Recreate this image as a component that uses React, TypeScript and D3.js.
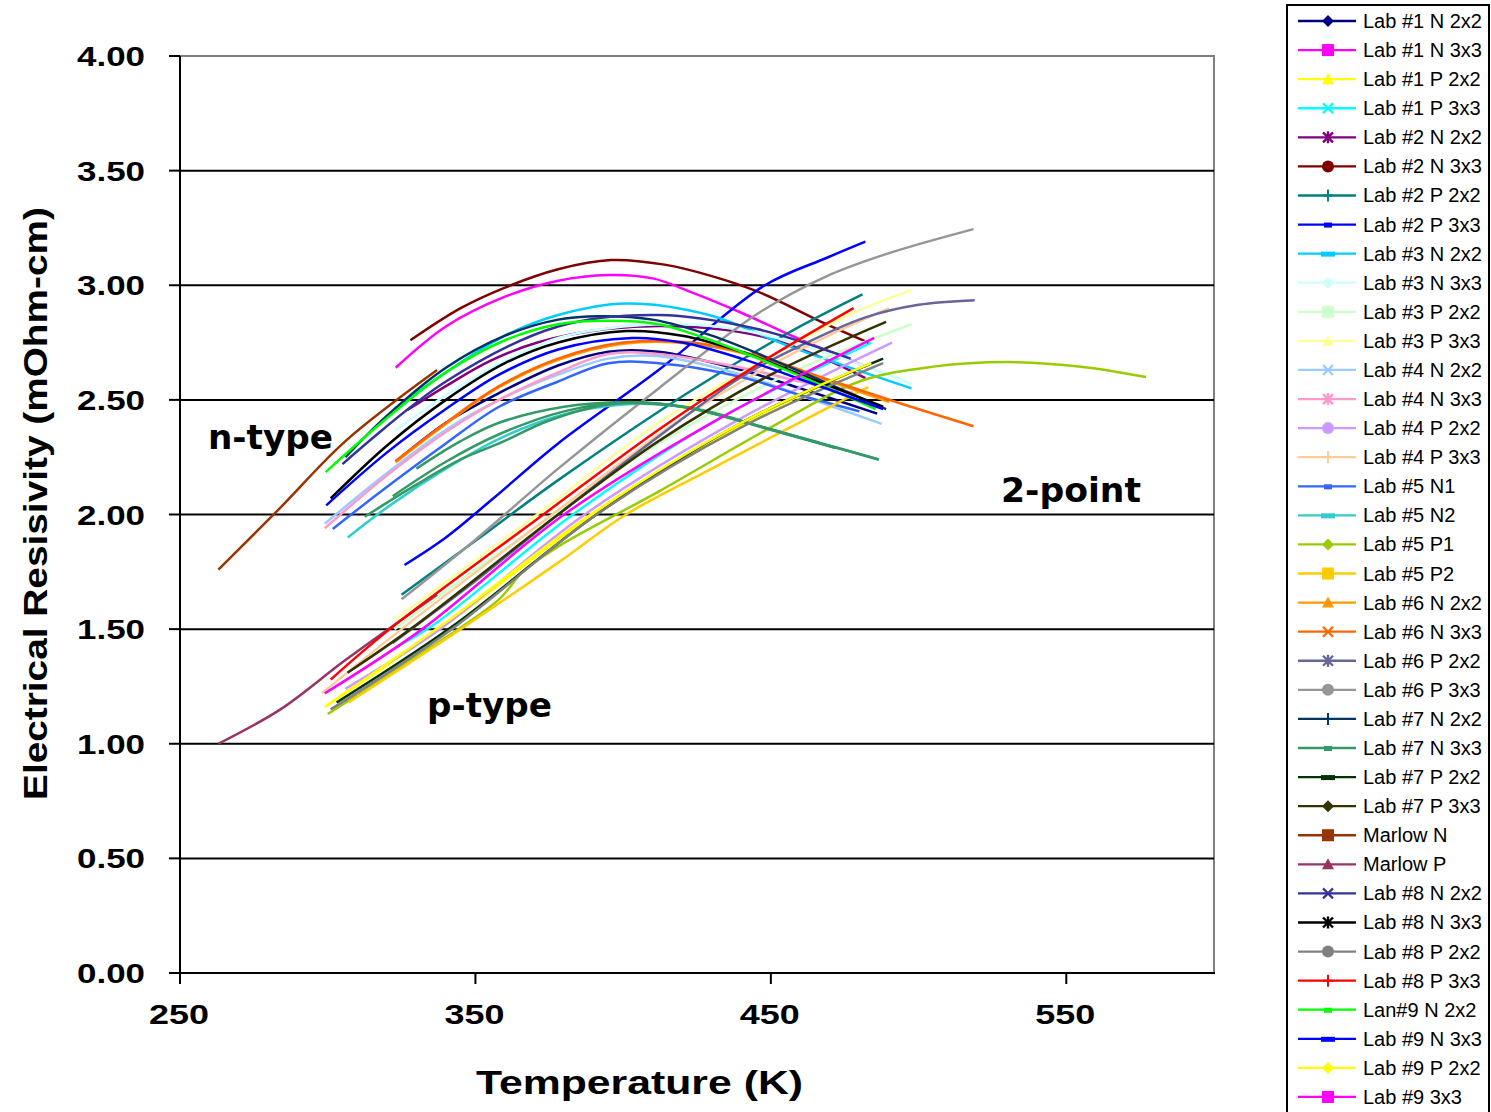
import React from "react";
import * as d3 from "d3";

// ---------- data (Temperature K, Resistivity mOhm-cm) ----------
const lab1N2x2 = [[323,2.23],[340,2.40],[358,2.53],[378,2.65],[395,2.71],[412,2.71],[440,2.63],[460,2.55],[486,2.44]];
const lab1N3x3 = [[323,2.64],[340,2.82],[360,2.95],[378,3.02],[395,3.045],[410,3.03],[423,2.97],[440,2.88],[457,2.78],[483,2.64]];
const lab1P2x2 = [[299,1.16],[340,1.52],[390,2.00],[440,2.39],[484,2.66]];
const lab1P3x3 = [[323,1.42],[336,1.52],[383,2.00],[430,2.40],[484,2.75]];
const lab2N2x2 = [[327,2.456],[340,2.56],[355,2.67],[371,2.75],[395,2.81],[420,2.82],[446,2.78],[468,2.68],[482,2.595]];
const lab2N3x3 = [[328,2.76],[345,2.90],[360,2.99],[378,3.07],[396,3.11],[414,3.09],[430,3.04],[446,2.97],[468,2.835],[483,2.75]];
const lab2P2x2 = [[325,1.65],[350,1.885],[378,2.15],[423,2.54],[457,2.80],[481,2.96]];
const lab2P3x3 = [[326,1.78],[340,1.90],[356,2.07],[378,2.31],[412,2.63],[448,3.00],[469,3.12],[482,3.19]];
const lab3N2x2 = [[322.6,2.46],[340,2.62],[360,2.78],[378,2.87],[401,2.92],[429,2.87],[457,2.73],[497.6,2.55]];
const lab3N3x3 = [[322.6,2.364],[340,2.52],[360,2.67],[378,2.77],[400,2.82],[420,2.83],[442,2.80],[470,2.70],[497.6,2.57]];
const lab3P2x2 = [[322.6,1.50],[350,1.76],[380,2.03],[412,2.31],[457,2.62],[497.6,2.83]];
const lab3P3x3 = [[322.6,1.54],[350,1.80],[373,2.02],[412,2.40],[457,2.74],[478,2.88],[497.6,2.98]];
const lab4N2x2 = [[299,1.96],[320,2.18],[340,2.37],[358,2.50],[378,2.61],[395,2.68],[412,2.69],[440,2.61],[460,2.52],[487.5,2.395]];
const lab4N3x3 = [[299,1.94],[320,2.17],[340,2.36],[358,2.50],[378,2.62],[395,2.70],[412,2.70],[440,2.64],[460,2.58],[478,2.53]];
const lab4P2x2 = [[306,1.24],[338,1.50],[387,2.00],[440,2.42],[491,2.75]];
const lab4P3x3 = [[298,1.22],[325,1.50],[376,2.00],[420,2.42],[457,2.70],[490,2.90]];
const lab5N1 = [[301.7,1.937],[320,2.12],[340,2.31],[358,2.47],[378,2.58],[395,2.66],[412,2.66],[440,2.60],[460,2.52],[480,2.45]];
const lab5N2 = [[306.8,1.90],[320,2.03],[340,2.20],[358,2.33],[378,2.43],[400,2.48],[420,2.47],[445,2.39],[472,2.29]];
const lab5P1 = [[300,1.13],[330,1.38],[358,1.63],[366,1.75],[378,1.86],[412,2.10],[450,2.38],[480,2.58],[505,2.645],[530,2.665],[555,2.645],[577,2.60]];
const lab5P2 = [[307,1.18],[345,1.50],[378,1.79],[401,2.00],[430,2.20],[458,2.39],[483,2.556]];
const lab6N2x2 = [[323,2.228],[340,2.395],[358,2.555],[378,2.675],[400,2.745],[423,2.745],[446,2.685],[469,2.585],[490,2.49]];
const lab6N3x3 = [[323,2.233],[340,2.40],[358,2.56],[378,2.68],[400,2.75],[423,2.75],[446,2.69],[469,2.59],[495,2.48],[518.6,2.385]];
const lab6P2x2 = [[322,1.44],[350,1.71],[378,2.00],[412,2.34],[440,2.60],[459,2.73],[482,2.86],[500,2.915],[519,2.935]];
const lab6P3x3 = [[325,1.63],[350,1.89],[378,2.20],[412,2.55],[446,2.88],[469,3.04],[490,3.14],[518.6,3.245]];
const lab7N2x2 = [[306,2.25],[320,2.43],[340,2.64],[360,2.78],[378,2.85],[392,2.865],[410,2.85],[430,2.78],[457,2.64],[489,2.46]];
const lab7N3x3a = [[312.5,1.99],[330,2.13],[345,2.24],[358,2.31],[375,2.41],[395,2.48],[420,2.47],[445,2.39],[470,2.30],[486.5,2.24]];
const lab7N3x3b = [[322,2.08],[340,2.23],[358,2.35],[380,2.45],[400,2.49],[425,2.46],[450,2.37],[472,2.29]];
const lab7N3x3c = [[330,2.20],[345,2.32],[358,2.40],[380,2.47],[400,2.49],[420,2.47],[450,2.37],[486.5,2.24]];
const lab7P2x2 = [[303,1.18],[342,1.51],[391,2.00],[440,2.40],[488,2.68]];
const lab7P3x3 = [[306.7,1.31],[328,1.50],[378,2.00],[412,2.32],[450,2.61],[489,2.84]];
const marlowN = [[263,1.76],[284,2.03],[306,2.32],[337,2.63]];
const marlowP = [[263,1.00],[284,1.15],[306,1.365],[337,1.65]];
const lab8N2x2 = [[305,2.22],[340,2.58],[378,2.82],[412,2.87],[445,2.81],[477,2.68]];
const lab8N3x3 = [[301,2.07],[320,2.30],[340,2.50],[360,2.66],[378,2.75],[401,2.80],[420,2.78],[440,2.71],[460,2.61],[488,2.47]];
const lab8P2x2 = [[301,1.15],[342,1.50],[391,2.00],[440,2.38],[488,2.66]];
const lab8P3x3 = [[301,1.28],[321,1.50],[373,2.00],[412,2.37],[445,2.65],[478,2.90]];
const lab9N2x2 = [[299.3,2.185],[320,2.42],[340,2.62],[360,2.76],[378,2.83],[395,2.845],[412,2.83],[423,2.79],[440,2.71],[457,2.62],[485.5,2.46]];
const lab9N3x3 = [[299.5,2.04],[320,2.27],[340,2.46],[358,2.61],[378,2.72],[403,2.77],[420,2.75],[440,2.68],[460,2.59],[488,2.46]];
const lab9P2x2 = [[300,1.17],[340,1.53],[389,2.00],[440,2.40],[484,2.66]];
const lab9P3x3 = [[299,1.22],[332,1.50],[380,2.00],[430,2.40],[485,2.77]];

const seriesNames = [
  "Lab #1 N 2x2","Lab #1 N 3x3","Lab #1 P 2x2","Lab #1 P 3x3",
  "Lab #2 N 2x2","Lab #2 N 3x3","Lab #2 P 2x2","Lab #2 P 3x3",
  "Lab #3 N 2x2","Lab #3 N 3x3","Lab #3 P 2x2","Lab #3 P 3x3",
  "Lab #4 N 2x2","Lab #4 N 3x3","Lab #4 P 2x2","Lab #4 P 3x3",
  "Lab #5 N1","Lab #5 N2","Lab #5 P1","Lab #5 P2",
  "Lab #6 N 2x2","Lab #6 N 3x3","Lab #6 P 2x2","Lab #6 P 3x3",
  "Lab #7 N 2x2","Lab #7 N 3x3","Lab #7 P 2x2","Lab #7 P 3x3",
  "Marlow N","Marlow P",
  "Lab #8 N 2x2","Lab #8 N 3x3","Lab #8 P 2x2","Lab #8 P 3x3",
  "Lan#9 N 2x2","Lab #9 N 3x3","Lab #9 P 2x2","Lab #9 3x3",
];
const seriesRuns = [
  [lab1N2x2],[lab1N3x3],[lab1P2x2],[lab1P3x3],
  [lab2N2x2],[lab2N3x3],[lab2P2x2],[lab2P3x3],
  [lab3N2x2],[lab3N3x3],[lab3P2x2],[lab3P3x3],
  [lab4N2x2],[lab4N3x3],[lab4P2x2],[lab4P3x3],
  [lab5N1],[lab5N2],[lab5P1],[lab5P2],
  [lab6N2x2],[lab6N3x3],[lab6P2x2],[lab6P3x3],
  [lab7N2x2],[lab7N3x3a,lab7N3x3b,lab7N3x3c],[lab7P2x2],[lab7P3x3],
  [marlowN],[marlowP],
  [lab8N2x2],[lab8N3x3],[lab8P2x2],[lab8P3x3],
  [lab9N2x2],[lab9N3x3],[lab9P2x2],[lab9P3x3],
];
const yTicks = [0, 0.5, 1, 1.5, 2, 2.5, 3, 3.5, 4];
const xTicks = [250, 350, 450, 550];

// ---------- styles ----------
const colors = [
  "#000080","#FF00FF","#FFFF00","#00FFFF",
  "#800080","#800000","#008080","#0000FF",
  "#00CCFF","#CCFFFF","#CCFFCC","#FFFF99",
  "#99CCFF","#FF99CC","#CC99FF","#FFCC99",
  "#3366FF","#33CCCC","#99CC00","#FFCC00",
  "#FF9900","#FF6600","#666699","#969696",
  "#003366","#339966","#003300","#333300",
  "#993300","#993366",
  "#333399","#000000","#808080","#FF0000",
  "#00FF00","#0000FF","#FFFF00","#FF00FF",
];
const markers = [
  "diamond","square","triangle","x","star","circle","plus","dash",
  "bar","diamond","square","triangle","x","star","circle","plus",
  "dash","bar","diamond","square","triangle","x","star","circle",
  "plus","dash","bar","diamond","square","triangle","x","star",
  "circle","plus","dash","bar","diamond","square",
];

const x = d3.scaleLinear().domain([250, 600]).range([180, 1214]);
const y = d3.scaleLinear().domain([0, 4]).range([973, 56]);
const line = d3.line<number[]>().x(d => x(d[0])).y(d => y(d[1])).curve(d3.curveCatmullRom.alpha(0.5));

function Marker({ type, cx, cy, color }: { type: string; cx: number; cy: number; color: string }) {
  const s = 6;
  switch (type) {
    case "diamond":
      return <path d={`M${cx},${cy - s} L${cx + s},${cy} L${cx},${cy + s} L${cx - s},${cy} Z`} fill={color} />;
    case "square":
      return <rect x={cx - s} y={cy - s} width={2 * s} height={2 * s} fill={color} />;
    case "triangle":
      return <path d={`M${cx},${cy - s} L${cx + s},${cy + s - 1} L${cx - s},${cy + s - 1} Z`} fill={color} />;
    case "circle":
      return <circle cx={cx} cy={cy} r={s} fill={color} />;
    case "x":
      return <path d={`M${cx - 5},${cy - 5} L${cx + 5},${cy + 5} M${cx - 5},${cy + 5} L${cx + 5},${cy - 5}`} stroke={color} strokeWidth={2.2} />;
    case "star":
      return <path d={`M${cx - 5},${cy - 5} L${cx + 5},${cy + 5} M${cx - 5},${cy + 5} L${cx + 5},${cy - 5} M${cx},${cy - 6} L${cx},${cy + 6}`} stroke={color} strokeWidth={2.4} />;
    case "plus":
      return <path d={`M${cx},${cy - 6} L${cx},${cy + 6} M${cx - 5},${cy} L${cx + 5},${cy}`} stroke={color} strokeWidth={2} />;
    case "dash":
      return <rect x={cx - 4} y={cy - 2} width={8} height={5} fill={color} />;
    case "bar":
      return <rect x={cx - 7} y={cy - 2} width={14} height={5} fill={color} />;
    default:
      return null;
  }
}

export default function App() {
  const legendX = 1287, legendY = 5, legendStep = 29.08, legendFirst = 21;
  return (
    <svg width={1491} height={1112} style={{ display: "block", position: "absolute", left: 0, top: 0 }}
      fontFamily="'Liberation Sans', Arial, sans-serif">
      <rect x={0} y={0} width={1491} height={1112} fill="#fff" />
      {/* plot frame */}
      <rect x={180} y={56} width={1034} height={917} fill="none" stroke="#808080" strokeWidth={2} />
      {/* gridlines */}
      {yTicks.filter(t => t > 0 && t < 4).map(t => (
        <line key={t} x1={180} x2={1214} y1={y(t)} y2={y(t)} stroke="#000" strokeWidth={2} />
      ))}
      {/* series */}
      {seriesRuns.map((runs, i) =>
        runs.map((run, j) => (
          <path key={`${i}-${j}`} d={line(run as number[][]) || ""} fill="none" stroke={colors[i]} strokeWidth={2.5} strokeLinejoin="round" />
        ))
      )}
      {/* axes */}
      <line x1={180} x2={180} y1={56} y2={974} stroke="#000" strokeWidth={2} />
      <line x1={179} x2={1215} y1={973} y2={973} stroke="#000" strokeWidth={2} />
      {yTicks.map(t => (
        <g key={t}>
          <line x1={169} x2={180} y1={y(t)} y2={y(t)} stroke="#000" strokeWidth={2} />
          <text x={77} y={y(t) + 10} fontSize={28} fontWeight="bold" textLength={68} lengthAdjust="spacingAndGlyphs">{t.toFixed(2)}</text>
        </g>
      ))}
      {xTicks.map(t => (
        <g key={t}>
          <line x1={x(t)} x2={x(t)} y1={973} y2={984} stroke="#000" strokeWidth={2} />
          <text x={x(t) - 31} y={1024} fontSize={28} fontWeight="bold" textLength={60} lengthAdjust="spacingAndGlyphs">{t}</text>
        </g>
      ))}
      {/* axis titles */}
      <text x={476} y={1094} fontSize={34} fontWeight="bold" textLength={327} lengthAdjust="spacingAndGlyphs">Temperature (K)</text>
      <text transform="translate(47,800) rotate(-90)" x={0} y={0} fontSize={34} fontWeight="bold" textLength={593} lengthAdjust="spacingAndGlyphs">Electrical Resisivity (mOhm-cm)</text>
      {/* annotations */}
      <g fontFamily="'DejaVu Sans', Verdana, sans-serif" fontWeight="bold" fontSize={34}>
        <text x={208} y={449} textLength={125} lengthAdjust="spacingAndGlyphs">n-type</text>
        <text x={427} y={717} textLength={125} lengthAdjust="spacingAndGlyphs">p-type</text>
        <text x={1001} y={502} textLength={140} lengthAdjust="spacingAndGlyphs">2-point</text>
      </g>
      {/* legend */}
      <rect x={legendX} y={legendY} width={202} height={1120} fill="#fff" stroke="#000" strokeWidth={2} />
      {seriesNames.map((name, i) => {
        const ly = legendFirst + i * legendStep;
        return (
          <g key={name}>
            <line x1={1298} x2={1356} y1={ly} y2={ly} stroke={colors[i]} strokeWidth={2.3} />
            <Marker type={markers[i]} cx={1328} cy={ly} color={colors[i]} />
            <text x={1363} y={ly + 7} fontSize={20} fill="#000">{name}</text>
          </g>
        );
      })}
    </svg>
  );
}
